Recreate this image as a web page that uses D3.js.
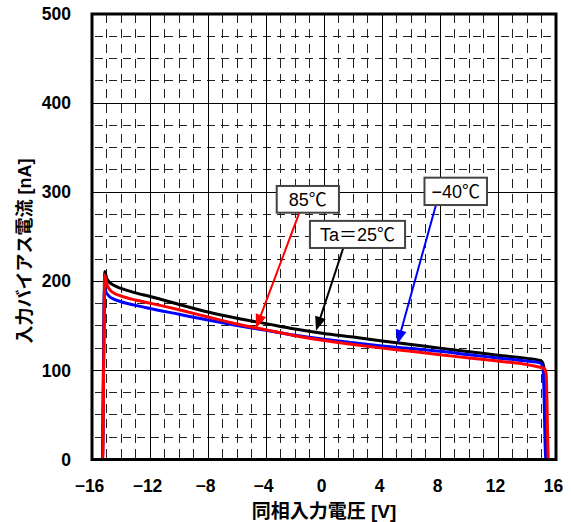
<!DOCTYPE html>
<html>
<head>
<meta charset="utf-8">
<script src="https://cdn.jsdelivr.net/npm/d3@7/dist/d3.min.js"></script>
<style>
  html, body { margin: 0; padding: 0; background: #fff; }
  svg { display: block; }
</style>
</head>
<body>
<svg id="chart" width="571" height="522"></svg>
<script>
// ---------- data ----------
const xTicks = [-16, -12, -8, -4, 0, 4, 8, 12, 16];
const yTicks = [0, 100, 200, 300, 400, 500];
const xTitle = "同相入力電圧 [V]";
const yTitle = "入力バイアス電流 [nA]";

// Ta = 25°C (black)
const v25 = [-16, -15.28, -15.2, -15.12, -15.0, -14.8, -14.5, -14, -13, -12, -10, -8, -6, -4, -2, 0, 2, 4, 6, 8, 10, 12, 14, 14.8, 15.05, 15.15, 15.35, 16];
const i25 = [0, 0, 120, 211, 204, 199, 195.5, 192, 187, 183, 174, 165.5, 158.5, 152.5, 146.5, 141.5, 137.5, 133, 129, 125, 121, 117, 113.5, 111.5, 109.5, 104, 0, 0];

// -40°C (blue)
const vM40 = [-16, -15.28, -15.2, -15.14, -15.0, -14.8, -14.5, -14, -13, -12, -10, -8, -6, -4, -2, 0, 2, 4, 6, 8, 10, 12, 14, 14.9, 15.05, 15.12, 15.3, 16];
const iM40 = [0, 0, 110, 192, 187, 183, 180, 177, 173, 169.5, 163, 156.5, 150.5, 145, 139.5, 135, 131, 127.5, 124.5, 121.5, 117.5, 114, 110.5, 108.5, 106, 100, 0, 0];

// 85°C (red)
const v85 = [-16, -15.26, -15.19, -15.12, -15.0, -14.8, -14.5, -14, -13, -12, -10, -8, -6, -4, -2, 0, 2, 4, 6, 8, 10, 12, 14, 14.9, 15.2, 15.32, 15.48, 16];
const i85 = [0, 0, 115, 207, 198, 191, 187, 183.5, 179, 175.5, 168, 160, 152, 145.5, 139, 133.5, 129, 125, 121.5, 117.5, 114, 110.5, 106.5, 103.5, 102, 96, 0, 0];

// annotations: label, box [v0, v1, nA top, nA bottom], arrow start, arrow tip, colour
const noteLabels = ["85℃", "Ta＝25℃", "−40℃"];
const noteBoxes = [[-3.26, 1.03, 307, 277], [-0.97, 5.59, 267.8, 237.4], [6.93, 11.24, 316.3, 285.6]];
const arrowStart = [[-1.70, 277], [1.33, 237.4], [7.72, 285.6]];
const arrowTip = [[-4.69, 147.2], [-0.55, 144.6], [5.06, 129.6]];
const noteColors = ["#ff0000", "#000000", "#0000ff"];

// ---------- drawing ----------
const svg = d3.select("#chart");
const x = d3.scaleLinear().domain([-16, 16]).range([92, 556]);
const y = d3.scaleLinear().domain([0, 500]).range([459.5, 14]);

const g = svg.append("g");

// minor dashed grid
const minorX = d3.range(-15, 16, 1).filter(v => v % 4 !== 0);
const minorY = d3.range(25, 500, 25).filter(v => v % 100 !== 0);
g.selectAll(".mvx").data(minorX).join("line")
  .attr("x1", d => x(d)).attr("x2", d => x(d))
  .attr("y1", y(0)).attr("y2", y(500))
  .attr("stroke", "#222").attr("stroke-width", 1)
  .attr("stroke-dasharray", "9,6").attr("stroke-dashoffset", -2)
  .attr("shape-rendering", "crispEdges");
g.selectAll(".mhy").data(minorY).join("line")
  .attr("x1", x(-16)).attr("x2", x(16))
  .attr("y1", d => y(d)).attr("y2", d => y(d))
  .attr("stroke", "#222").attr("stroke-width", 1)
  .attr("stroke-dasharray", "8,6").attr("stroke-dashoffset", -3)
  .attr("shape-rendering", "crispEdges");

// major solid grid
g.selectAll(".gvx").data(xTicks.slice(1, -1)).join("line")
  .attr("x1", d => x(d)).attr("x2", d => x(d))
  .attr("y1", y(0)).attr("y2", y(500))
  .attr("stroke", "#000").attr("stroke-width", 1)
  .attr("shape-rendering", "crispEdges");
g.selectAll(".ghy").data(yTicks.slice(1, -1)).join("line")
  .attr("x1", x(-16)).attr("x2", x(16))
  .attr("y1", d => y(d)).attr("y2", d => y(d))
  .attr("stroke", "#000").attr("stroke-width", 1)
  .attr("shape-rendering", "crispEdges");

// curves
const line = d3.line().x(d => x(d[0])).y(d => y(d[1])).curve(d3.curveMonotoneX);
const series = [
  { v: v25, i: i25, c: "#000000" },
  { v: vM40, i: iM40, c: "#0000ff" },
  { v: v85, i: i85, c: "#ff0000" }
];
series.forEach(s => {
  g.append("path")
    .datum(s.v.map((v, k) => [v, s.i[k]]))
    .attr("d", line)
    .attr("fill", "none")
    .attr("stroke", s.c)
    .attr("stroke-width", 3)
    .attr("stroke-linejoin", "round");
});

// frame
g.append("rect")
  .attr("x", x(-16)).attr("y", y(500))
  .attr("width", x(16) - x(-16)).attr("height", y(0) - y(500))
  .attr("fill", "none").attr("stroke", "#000").attr("stroke-width", 3);

// axes
const fontNum = "'Liberation Sans', Arial, 'Noto Sans CJK JP', sans-serif";
const xAxis = svg.append("g").attr("transform", `translate(0,${y(0)})`)
  .call(d3.axisBottom(x).tickValues(xTicks).tickSize(0).tickPadding(20.5).tickFormat(d3.format("d")));
xAxis.select(".domain").remove();
xAxis.selectAll("text")
  .attr("x", -3)
  .style("font-family", fontNum).style("font-weight", "bold").style("font-size", "17.5px").attr("fill", "#000");

const yAxis = svg.append("g").attr("transform", `translate(${x(-16)},0)`)
  .call(d3.axisLeft(y).tickValues(yTicks).tickSize(0).tickPadding(21).tickFormat(d3.format("d")));
yAxis.select(".domain").remove();
yAxis.selectAll("text")
  .style("font-family", fontNum).style("font-weight", "bold").style("font-size", "17.5px").attr("fill", "#000");

// titles
const fontCJK = "'Liberation Sans', 'Noto Sans CJK JP', sans-serif";
svg.append("text")
  .attr("x", 324).attr("y", 518)
  .attr("text-anchor", "middle")
  .style("font-family", fontCJK).style("font-weight", "bold").style("font-size", "19px")
  .text(xTitle);
svg.append("text")
  .attr("transform", "translate(31,251) rotate(-90)")
  .attr("text-anchor", "middle")
  .style("font-family", fontCJK).style("font-weight", "bold").style("font-size", "18px")
  .text(yTitle);

// annotations
const ann = svg.append("g");
noteLabels.forEach((lab, k) => {
  const s = arrowStart[k], t = arrowTip[k];
  const x0 = x(s[0]), y0 = y(s[1]), x1 = x(t[0]), y1 = y(t[1]);
  const dx = x1 - x0, dy = y1 - y0, len = Math.hypot(dx, dy);
  const ux = dx / len, uy = dy / len;
  const headL = 14, headW = 5.5;
  const bx = x1 - ux * headL, by = y1 - uy * headL;
  ann.append("line")
    .attr("x1", x0).attr("y1", y0).attr("x2", bx + ux).attr("y2", by + uy)
    .attr("stroke", noteColors[k]).attr("stroke-width", 2);
  ann.append("path")
    .attr("d", `M${x1},${y1}L${bx - uy * headW},${by + ux * headW}L${bx + uy * headW},${by - ux * headW}Z`)
    .attr("fill", noteColors[k]);
});
noteLabels.forEach((lab, k) => {
  const b = noteBoxes[k];
  const bx0 = x(b[0]), bx1 = x(b[1]), by0 = y(b[2]), by1 = y(b[3]);
  ann.append("rect")
    .attr("x", bx0).attr("y", by0).attr("width", bx1 - bx0).attr("height", by1 - by0)
    .attr("fill", "#fff").attr("stroke", "#444").attr("stroke-width", 2);
  ann.append("text")
    .attr("x", (bx0 + bx1) / 2).attr("y", (by0 + by1) / 2 + 6.5)
    .attr("text-anchor", "middle")
    .style("font-family", fontCJK).style("font-size", "18px")
    .attr("fill", "#000")
    .text(lab);
});
</script>
</body>
</html>
